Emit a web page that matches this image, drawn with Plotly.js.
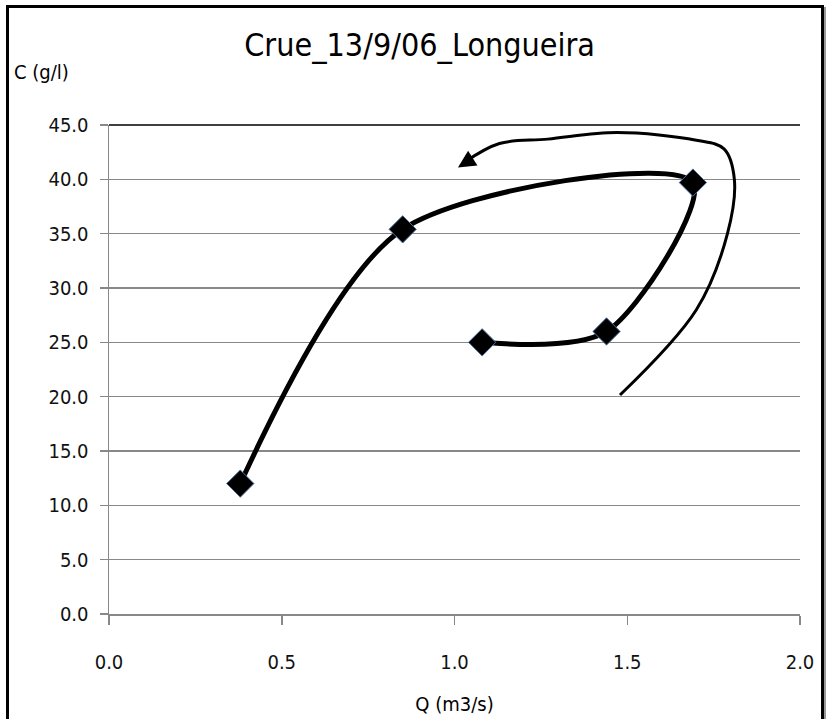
<!DOCTYPE html>
<html>
<head>
<meta charset="utf-8">
<script src="https://cdn.plot.ly/plotly-3.0.1.min.js"></script>
<style>
  html, body { margin: 0; padding: 0; background: #fff; overflow: hidden; }
  #chart { position: absolute; left: 0; top: 0; width: 826px; height: 719px; }
  #frame { position: absolute; left: 6px; top: 5px; width: 812px; height: 730px;
           border: 3px solid #000; box-shadow: 2px 2px 0 #999; pointer-events: none; }
</style>
</head>
<body>
<div id="chart"></div>
<div id="frame"></div>
<script>
// Data (Q in m3/s, C in g/l), in event order
const Q = [1.08, 1.44, 1.69, 0.85, 0.38];
const C = [25.0, 26.0, 39.7, 35.4, 12.0];

// Hand-drawn hysteresis direction arrow (decoration)
const arrowQ = [1.479, 1.70, 1.79, 1.81, 1.78, 1.70, 1.47, 1.27, 1.13, 1.03];
const arrowC = [20.15, 28.0, 35.0, 40.0, 42.8, 43.6, 44.3, 43.7, 43.3, 41.6];

const xTicks = [0, 0.5, 1.0, 1.5, 2.0];
const yTicks = [0, 5, 10, 15, 20, 25, 30, 35, 40, 45];

const font = "'DejaVu Sans Condensed', 'Liberation Sans Narrow', 'Open Sans', sans-serif";

const traces = [
  {
    x: arrowQ, y: arrowC, type: 'scatter', mode: 'lines',
    line: { color: '#000', width: 3, shape: 'spline', smoothing: 1.0 },
    hoverinfo: 'skip', showlegend: false
  },
  {
    x: Q, y: C, type: 'scatter', mode: 'lines+markers',
    line: { color: '#000', width: 5, shape: 'spline', smoothing: 0.85 },
    marker: { symbol: 'diamond', size: 21, color: '#000', line: { color: '#4f6f9f', width: 1 } },
    showlegend: false
  }
];

const layout = {
  width: 826, height: 719,
  margin: { l: 109, r: 26, t: 125, b: 105 },
  paper_bgcolor: 'rgba(0,0,0,0)',
  plot_bgcolor: '#fff',
  showlegend: false,
  title: {
    text: 'Crue_13/9/06_Longueira',
    font: { family: font, size: 32, color: '#000' },
    x: 0.508, xanchor: 'center', y: 0.937, yanchor: 'middle'
  },
  xaxis: {
    range: [0, 2], tickvals: xTicks, tickformat: '.1f',
    showgrid: false, zeroline: false,
    showline: true, linecolor: '#888', linewidth: 1.5,
    ticks: 'outside', ticklen: 9, tickcolor: '#888', tickwidth: 1.5,
    ticklabelstandoff: 20,
    tickfont: { family: font, size: 20, color: '#111' },
    title: { text: 'Q (m3/s)', font: { family: font, size: 20, color: '#000' }, standoff: 24 }
  },
  yaxis: {
    range: [0, 45], tickvals: yTicks, tickformat: '.1f',
    showgrid: true, gridcolor: '#888', gridwidth: 1.5,
    zeroline: false,
    showline: true, linecolor: '#888', linewidth: 1.5,
    ticks: 'outside', ticklen: 8, tickcolor: '#888', tickwidth: 1.5,
    ticklabelstandoff: 7,
    tickfont: { family: font, size: 20, color: '#111' }
  },
  shapes: [
    { type: 'line', xref: 'paper', yref: 'paper', x0: 0, x1: 1, y0: 1, y1: 1,
      line: { color: '#000', width: 1.5 } }
  ],
  annotations: [
    { text: 'C (g/l)', xref: 'paper', yref: 'paper', x: -0.14, y: 1.108,
      xanchor: 'left', yanchor: 'middle', showarrow: false,
      font: { family: font, size: 20, color: '#000' } },
    { x: 1.01, y: 41.1, xref: 'x', yref: 'y', ax: 1.04, ay: 41.7, axref: 'x', ayref: 'y',
      showarrow: true, arrowhead: 2, arrowsize: 1.4, arrowwidth: 2.5, arrowcolor: '#000', text: '' }
  ]
};

Plotly.newPlot('chart', traces, layout, { displayModeBar: false, staticPlot: true });
</script>
</body>
</html>
